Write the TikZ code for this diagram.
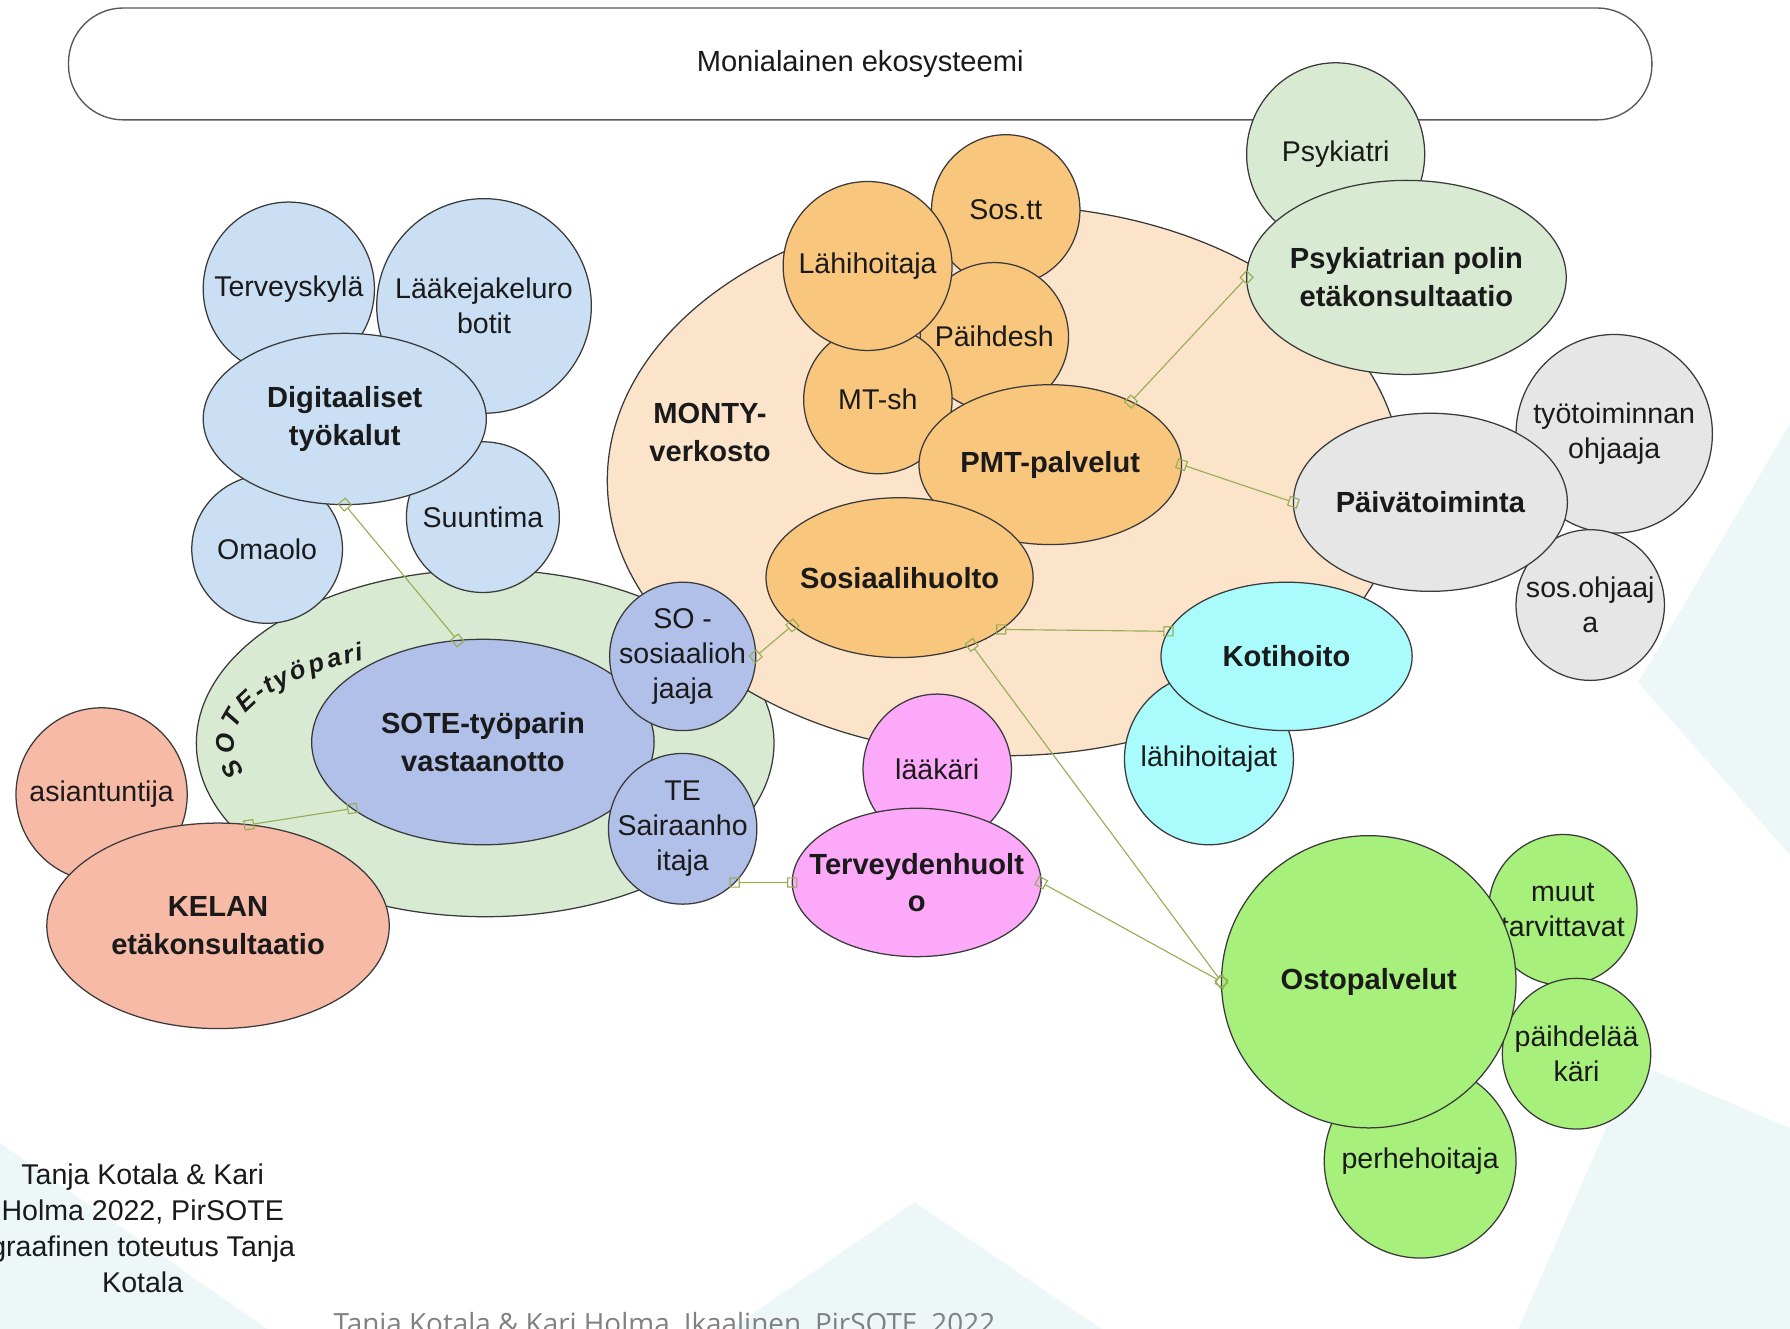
\documentclass[tikz,border=0pt]{standalone}
\usepackage{fontspec}
\setmainfont{Liberation Sans}
\newfontfamily\footfont{Open Sans}
\usetikzlibrary{shapes.geometric,arrows.meta,decorations.text}

\definecolor{peach}{HTML}{FCE4CB}
\definecolor{orng}{HTML}{F9C67D}
\definecolor{sage}{HTML}{D9EAD3}
\definecolor{sky}{HTML}{CADFF4}
\definecolor{lav}{HTML}{B1C0E8}
\definecolor{salmon}{HTML}{F7BAA7}
\definecolor{pinkish}{HTML}{FBA9F8}
\definecolor{aqua}{HTML}{AAFBFC}
\definecolor{greyfill}{HTML}{E6E6E6}
\definecolor{lime}{HTML}{A7F07B}
\definecolor{edge}{HTML}{3A3A3A}
\definecolor{linkc}{HTML}{98AE55}
\definecolor{haze}{HTML}{EEF7F7}
\definecolor{ink}{HTML}{1A1A1A}

\newcommand\arcfont{\bfseries\itshape\fontsize{22.5}{22.5}\selectfont}

\tikzset{
  bubble/.style={ellipse, draw=edge, line width=1.1pt, inner sep=0pt, outer sep=0pt},
  txt/.style={font=\fontsize{25}{30.5}\selectfont, text=ink, align=center, inner sep=0pt},
  btxt/.style={font=\bfseries\fontsize{25.5}{33}\selectfont, text=ink, align=center, inner sep=0pt},
  conn/.style={draw=linkc, line width=1pt,
    {Square[open,length=9pt,width=9pt]}-{Square[open,length=9pt,width=9pt]},
    shorten <=-4.5pt, shorten >=-4.5pt}
}

% name, x, y, x radius, y radius, fill, text style, text
\newcommand\bubbleat[8]{%
  \node[bubble, fill=#6, minimum width={2*#4}, minimum height={2*#5}] (#1) at (#2,#3) {};
  \node[#7] (#1-t) at (#1) {#8};}

\begin{document}
\begin{tikzpicture}[x=1pt, y=-1pt]
\useasboundingbox (0,0) rectangle (1568,1164);
\clip (0,0) rectangle (1568,1164);

% faint background facets
\fill[haze] (1568,371) -- (1435,598) -- (1568,749) -- cycle;
\fill[haze] (1432,931) -- (1568,988) -- (1568,1164) -- (1330,1164) -- cycle;
\fill[haze] (801,1053) -- (640,1164) -- (965,1164) -- cycle;
\fill[haze] (0,1001) -- (234,1164) -- (0,1164) -- cycle;

% header band
\node[draw=edge!85, line width=1.2pt, rounded corners=48pt, fill=white,
      minimum width=1387, minimum height=98, txt, font=\fontsize{25.5}{30}\selectfont]
      (eco) at (753.5,56) {Monialainen ekosysteemi};

\bubbleat{psy}{1170}{135}{78}{80}{sage}{txt}{Psykiatri}

% SOTE pair group
\node[bubble, fill=sage, minimum width=506, minimum height=304] (pari) at (425,651) {};
\path[decorate, decoration={text effects along path,
   text={SOTE-työpari},
   text effects/.cd, text along path, fit text to path,
   characters={font=\arcfont, text=ink}}]
   (214.5,676) arc[start angle=163, end angle=241, x radius=221, y radius=84];

% MONTY network
\node[bubble, fill=peach, minimum width=696, minimum height=482] (monty) at (880,421) {};
\node[btxt] (monty-t) at (622,379) {MONTY-\\verkosto};

\bubbleat{sostt}{881}{184}{65}{66}{orng}{txt}{Sos.tt}
\bubbleat{paihde}{871}{295}{65}{65}{orng}{txt}{Päihdesh}
\bubbleat{mtsh}{769}{350}{65}{65}{orng}{txt}{MT-sh}
\bubbleat{lahi}{760}{233}{74}{74}{orng}{txt}{Lähihoitaja}
\bubbleat{pmt}{920}{407}{115}{70}{orng}{btxt}{PMT-palvelut}
\bubbleat{sosh}{788}{506}{117}{70}{orng}{btxt}{Sosiaalihuolto}

\bubbleat{psypol}{1232}{243}{140}{85}{sage}{btxt}{Psykiatrian polin\\etäkonsultaatio}

\bubbleat{tyot}{1414}{380}{86}{87}{greyfill}{txt}{työtoiminnan\\ohjaaja}
\bubbleat{sosohj}{1393}{530}{65}{66}{greyfill}{txt}{sos.ohjaaj\\a}
\bubbleat{paiva}{1253}{440}{120}{78}{greyfill}{btxt}{Päivätoiminta}

\bubbleat{lahit}{1059}{665}{74}{75}{aqua}{txt}{lähihoitajat}
\bubbleat{koti}{1127}{575}{110}{65}{aqua}{btxt}{Kotihoito}

\bubbleat{laak}{821}{674}{65}{66}{pinkish}{txt}{lääkäri}
\bubbleat{terv}{803}{773}{109}{65}{pinkish}{btxt}{Terveydenhuolt\\o}

\bubbleat{vast}{423}{650}{150}{90}{lav}{btxt}{SOTE-työparin\\vastaanotto}
\bubbleat{so}{598}{575}{64}{65}{lav}{txt}{SO -\\sosiaalioh\\jaaja}
\bubbleat{te}{598}{726}{65}{66}{lav}{txt}{TE\\Sairaanho\\itaja}

% digital tools
\bubbleat{tkyla}{253}{253}{75}{76}{sky}{txt}{Terveyskylä}
\bubbleat{robot}{424}{268}{94}{94}{sky}{txt}{Lääkejakeluro\\botit}
\bubbleat{omaolo}{234}{481}{66}{65}{sky}{txt}{Omaolo}
\bubbleat{suunt}{423}{453}{67}{66}{sky}{txt}{Suuntima}
\bubbleat{digi}{302}{367}{124}{75}{sky}{btxt}{Digitaaliset\\työkalut}

% KELA
\bubbleat{asi}{89}{696}{75}{76}{salmon}{txt}{asiantuntija}
\bubbleat{kela}{191}{811}{150}{90}{salmon}{btxt}{KELAN\\etäkonsultaatio}

% purchased services
\bubbleat{muut}{1369}{797}{65}{66}{lime}{txt}{muut\\tarvittavat}
\bubbleat{paihdel}{1381}{923}{65}{66}{lime}{txt}{päihdelää\\käri}
\bubbleat{perhe}{1244}{1017}{84}{85}{lime}{txt}{perhehoitaja}
\bubbleat{osto}{1199}{860}{129}{128}{lime}{btxt}{Ostopalvelut}

% links
\draw[conn] (psypol.west) -- (pmt.38);
\draw[conn] (pmt.east) -- (paiva.west);
\draw[conn] (sosh.-27) -- (koti.168);
\draw[conn] (sosh.-43) -- (osto.west);
\draw[conn] (so.east) -- (sosh.204);
\draw[conn] (digi.south) -- (vast.104);
\draw[conn] (kela.73) -- (vast.207);
\draw[conn] (te.-46) -- (terv.west);
\draw[conn] (terv.east) -- (osto.west);

% credits
\node[txt, font=\fontsize{25}{31.5}\selectfont] (credit) at (125,1076)
  {Tanja Kotala \& Kari\\Holma 2022, PirSOTE\\graafinen toteutus Tanja\\Kotala};
\node[anchor=base, inner sep=0pt, font=\footfont\fontsize{24.4}{24}\selectfont, text=black!50] (foot)
  at (582,1168) {Tanja Kotala \& Kari Holma, Ikaalinen, PirSOTE, 2022};
\end{tikzpicture}
\end{document}
